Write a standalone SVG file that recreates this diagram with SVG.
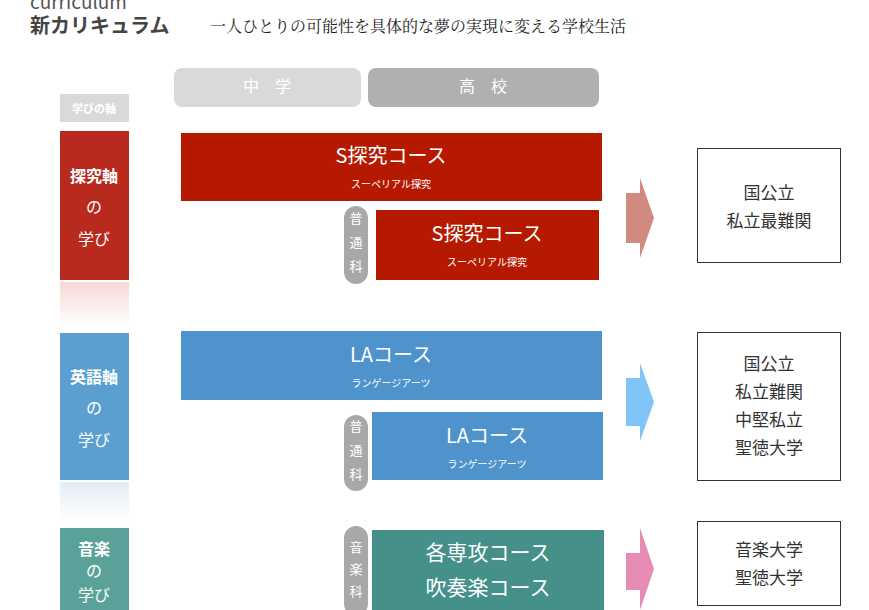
<svg xmlns="http://www.w3.org/2000/svg" width="869" height="610" viewBox="0 0 869 610">
<style>
text{font-family:"Noto Sans CJK JP","Liberation Sans",sans-serif}
.w{fill:#fff;text-anchor:middle}
.b{font-weight:bold}
.box{fill:#fff;stroke:#333;stroke-width:1}
.bt{fill:#333;font-size:17px;text-anchor:middle}
.pill{fill:#a8a8a8}
.pt{fill:#fff;font-size:13px;text-anchor:middle}
</style>
<defs>
<linearGradient id="gr" x1="0" y1="0" x2="0" y2="1"><stop offset="0" stop-color="#f5d9d6"/><stop offset="1" stop-color="#fff"/></linearGradient>
<linearGradient id="gb" x1="0" y1="0" x2="0" y2="1"><stop offset="0" stop-color="#e2ecf6"/><stop offset="1" stop-color="#fff"/></linearGradient>
</defs>
<rect width="869" height="610" fill="#fff"/>
<g id="header">
<text x="30" y="9" font-size="19" fill="#555">curriculum</text>
<text x="30" y="33" font-size="20" font-weight="bold" fill="#444">新カリキュラム</text>
<text x="210" y="32" font-size="16" fill="#222" style="font-family:'Noto Serif CJK JP','Liberation Serif','Noto Sans CJK JP',serif">一人ひとりの可能性を具体的な夢の実現に変える学校生活</text>
</g>
<g id="stage-chu"><rect x="174" y="68" width="187" height="39" rx="8" fill="#d9d9d9"/><text x="267" y="92" class="w" font-size="16">中　学</text></g>
<g id="stage-ko"><rect x="368" y="68" width="231" height="39" rx="8" fill="#b0b0b0"/><text x="483" y="92" class="w" font-size="16">高　校</text></g>
<g id="axis-label"><rect x="60" y="94" width="69" height="28" fill="#d9d9d9"/><text x="94" y="113" class="w b" font-size="11">学びの軸</text></g>
<g id="axis-tankyu"><rect x="60" y="131" width="69" height="149" fill="#b82a1e"/><rect x="60" y="282" width="69" height="44" fill="url(#gr)"/>
<text x="94" y="182" class="w b" font-size="16">探究軸</text><text x="94" y="213" class="w" font-size="16">の</text><text x="94" y="245" class="w" font-size="16">学び</text></g>
<g id="axis-eigo"><rect x="60" y="333" width="69" height="147" fill="#5b9fd0"/><rect x="60" y="482" width="69" height="40" fill="url(#gb)"/>
<text x="94" y="383" class="w b" font-size="16">英語軸</text><text x="94" y="414" class="w" font-size="16">の</text><text x="94" y="446" class="w" font-size="16">学び</text></g>
<g id="axis-ongaku"><rect x="60" y="528" width="69" height="82" fill="#5aa19a"/>
<text x="94" y="555" class="w b" font-size="16">音楽</text><text x="94" y="577" class="w" font-size="16">の</text><text x="94" y="601" class="w" font-size="16">学び</text></g>
<g id="s-tankyu-1"><rect x="181" y="133" width="421" height="68" fill="#b51a00"/><text x="391" y="163" class="w" font-size="20">S探究コース</text><text x="391" y="188" class="w" font-size="10">スーペリアル探究</text></g>
<g id="futsu-1"><rect x="344" y="206" width="24" height="78" rx="12" class="pill"/><text x="356" y="223" class="pt">普</text><text x="356" y="247" class="pt">通</text><text x="356" y="271" class="pt">科</text></g>
<g id="s-tankyu-2"><rect x="376" y="210" width="223" height="70" fill="#b51a00"/><text x="487" y="241" class="w" font-size="20">S探究コース</text><text x="487" y="266" class="w" font-size="10">スーペリアル探究</text></g>
<g id="la-1"><rect x="181" y="331" width="421" height="69" fill="#4e93cb"/><text x="391" y="362" class="w" font-size="20">LAコース</text><text x="391" y="387" class="w" font-size="10">ランゲージアーツ</text></g>
<g id="futsu-2"><rect x="344" y="415" width="24" height="76" rx="12" class="pill"/><text x="356" y="431" class="pt">普</text><text x="356" y="455" class="pt">通</text><text x="356" y="479" class="pt">科</text></g>
<g id="la-2"><rect x="372" y="412" width="231" height="68" fill="#4e93cb"/><text x="487" y="443" class="w" font-size="20">LAコース</text><text x="487" y="468" class="w" font-size="10">ランゲージアーツ</text></g>
<g id="ongakuka"><rect x="344" y="526" width="24" height="90" rx="12" class="pill"/><text x="356" y="552" class="pt">音</text><text x="356" y="574" class="pt">楽</text><text x="356" y="596" class="pt">科</text></g>
<g id="music"><rect x="372" y="530" width="232" height="80" fill="#45918a"/><text x="488" y="560" class="w" font-size="21">各専攻コース</text><text x="488" y="595" class="w" font-size="21">吹奏楽コース</text></g>
<g id="connectors">
<polygon points="626,193 640,193 640,178 654,218 640,258 640,243 626,243" fill="#d08a80"/>
<polygon points="626,378 640,378 640,363 654,402 640,441 640,426 626,426" fill="#80c4f8"/>
<polygon points="626,553 640,553 640,528 654,569 640,610 640,590 626,590" fill="#e58bb4"/>
</g>
<g id="dest-1"><rect x="697.5" y="148.5" width="143" height="114" class="box"/><text x="769" y="199" class="bt">国公立</text><text x="769" y="227" class="bt">私立最難関</text></g>
<g id="dest-2"><rect x="697.5" y="332.5" width="143" height="148" class="box"/><text x="769" y="370" class="bt">国公立</text><text x="769" y="398" class="bt">私立難関</text><text x="769" y="426" class="bt">中堅私立</text><text x="769" y="454" class="bt">聖徳大学</text></g>
<g id="dest-3"><rect x="697.5" y="521.5" width="143" height="84" class="box"/><text x="769" y="556" class="bt">音楽大学</text><text x="769" y="584" class="bt">聖徳大学</text></g>
</svg>
